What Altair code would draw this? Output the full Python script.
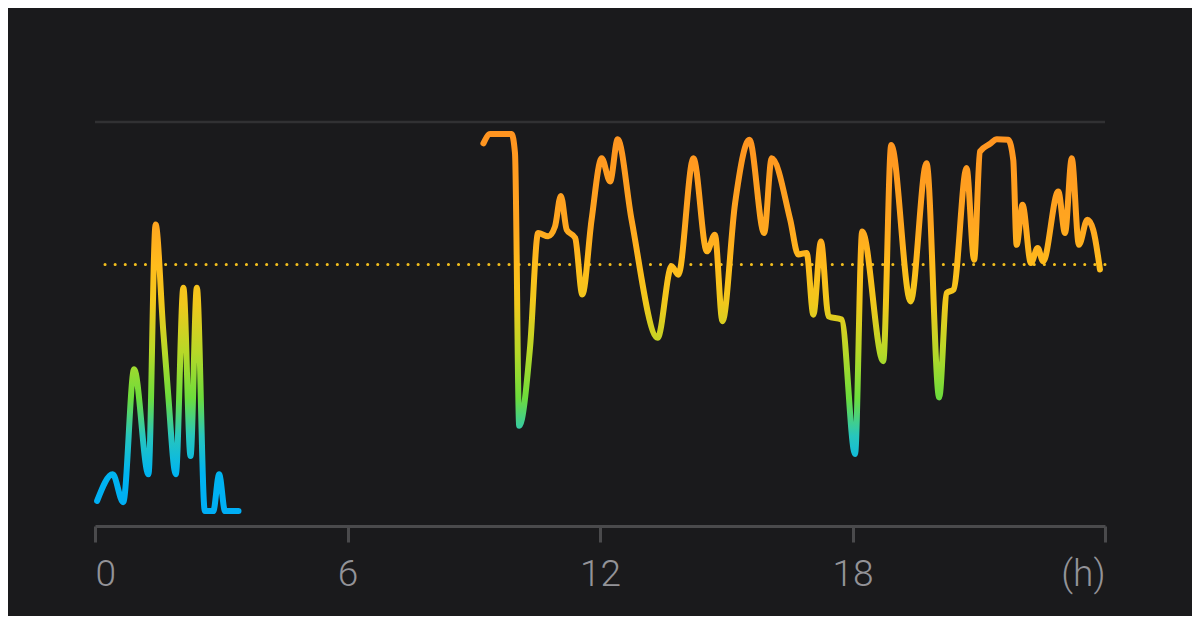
import altair as alt
import pandas as pd

# Session 1 (hours, value)
hours_a = [0.05, 0.42, 0.67, 0.93, 1.27, 1.44, 1.62, 1.73, 1.92, 2.10, 2.27, 2.42, 2.61, 2.81, 2.95, 3.09, 3.41]
vals_a = [6.2, 12.8, 5.9, 38.8, 12.8, 74.6, 48.6, 33.8, 12.8, 59.0, 17.3, 59.0, 3.7, 3.7, 12.8, 3.7, 3.7]

# Session 2 (hours, value)
hours_b = [9.23, 9.39, 9.90, 9.98, 10.08, 10.34, 10.53, 10.77, 10.93, 11.07, 11.21, 11.41, 11.58,
           11.80, 12.04, 12.24, 12.42, 12.75, 13.37, 13.70, 13.86, 14.22, 14.54, 14.73, 14.91,
           15.21, 15.55, 15.90, 16.08, 16.52, 16.71, 16.91, 17.07, 17.25, 17.43, 17.74, 18.06,
           18.23, 18.73, 18.92, 19.38, 19.76, 20.06, 20.24, 20.40, 20.71, 20.89, 21.03, 21.27,
           21.43, 21.70, 21.82, 21.90, 22.04, 22.24, 22.40, 22.53, 22.89, 23.05, 23.21, 23.38,
           23.58, 23.72, 23.88]
vals_b = [94.7, 97.0, 97.0, 92.3, 24.8, 44.5, 72.5, 71.7, 74.1, 81.7, 73.3, 71.3, 57.3,
          75.8, 91.0, 85.3, 95.7, 75.8, 46.6, 64.3, 62.2, 91.0, 68.0, 72.1, 50.7,
          79.9, 95.6, 72.5, 91.0, 75.8, 67.2, 67.6, 52.3, 70.4, 51.9, 51.1, 17.8,
          72.9, 40.8, 94.3, 55.6, 89.8, 31.8, 57.7, 58.5, 88.6, 65.9, 92.7, 94.6,
          95.7, 95.6, 90.6, 69.6, 79.5, 65.1, 68.8, 65.5, 82.8, 72.5, 91.0, 69.6,
          75.8, 73.3, 63.5]

gap_hour = [6.0]
gap_val = [None]

avg_value = [64.7]
top_value = [100]
tick_hours = [0, 6, 12, 18, 24]

stop_offsets = [0.0, 0.1, 0.2, 0.3, 0.42, 0.55, 0.65, 0.76, 1.0]
stop_colors = ["#00aef5", "#00b4f0", "#28c6bc", "#6cdc3c", "#b6d828",
               "#f0c81c", "#ffbc1c", "#ffa620", "#ff9420"]

hours = hours_a + gap_hour + hours_b
vals = vals_a + gap_val + vals_b
df = pd.DataFrame({"h": hours, "v": vals})

x_scale = alt.Scale(domain=[0, 24], nice=False, zero=False)
y_scale = alt.Scale(domain=[0, 100], nice=False, zero=True)

grad = {
    "gradient": "linear",
    "x1": 0, "x2": 0, "y1": 1, "y2": 0,
    "stops": [{"offset": o, "color": c} for o, c in zip(stop_offsets, stop_colors)],
}

line = alt.Chart(df).mark_line(
    strokeWidth=6, interpolate="monotone", strokeCap="round", strokeJoin="round"
).encode(
    x=alt.X("h:Q", scale=x_scale,
            axis=alt.Axis(values=tick_hours, title=None, grid=False,
                          labelExpr="datum.value == 24 ? '(h)' : datum.label",
                          labelFlush=True, labelFontSize=37, labelFont="Roboto",
                          labelFontWeight=300, labelColor="#939398", labelPadding=14,
                          domainColor="#4a4a4c", domainWidth=3, tickColor="#4a4a4c",
                          tickWidth=3, tickSize=16)),
    y=alt.Y("v:Q", scale=y_scale, axis=None),
    stroke=alt.value(grad),
)

top_rule = alt.Chart(pd.DataFrame({"v": top_value})).mark_rule(
    color="#313133", strokeWidth=2.5
).encode(y=alt.Y("v:Q", scale=y_scale, axis=None))

avg_rule = alt.Chart(pd.DataFrame({"v": avg_value})).mark_rule(
    color="#f2be1e", strokeWidth=3, strokeDash=[0.1, 10], strokeCap="round"
).encode(y=alt.Y("v:Q", scale=y_scale, axis=None))

chart = alt.layer(top_rule, avg_rule, line).properties(
    width=1010, height=404,
    autosize=alt.AutoSizeParams(type="none"),
    padding={"left": 87, "top": 114, "right": 87, "bottom": 90},
    background="#1a1a1c",
).configure_view(stroke=None)

chart.save("out.html", embed_options={"renderer": "svg", "actions": False})
